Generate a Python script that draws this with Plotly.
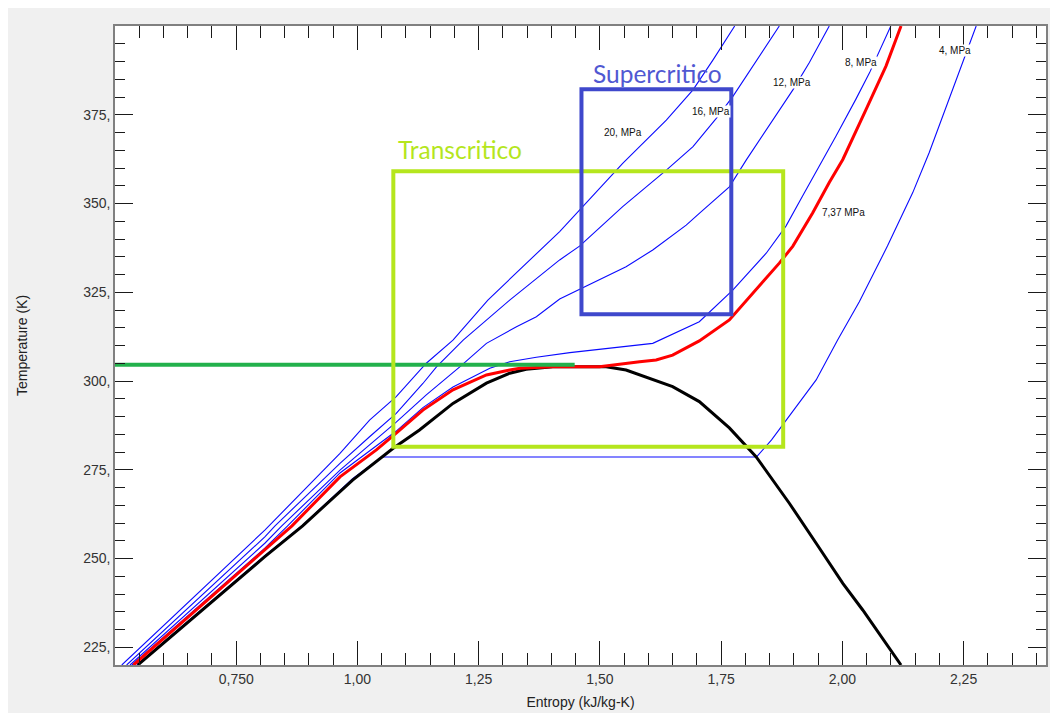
import plotly.graph_objects as go

# ---------------- data (entropy kJ/kg-K, temperature K) ----------------
dome_s = [0.547, 0.809, 0.887, 0.990, 1.073, 1.128, 1.197, 1.266, 1.314, 1.348, 1.403, 1.458,
          1.513, 1.554, 1.582, 1.650, 1.705, 1.767, 1.822, 1.891, 1.946, 2.001, 2.042, 2.121]
dome_T = [220.0, 250.5, 259.2, 272.1, 281.0, 286.2, 293.7, 299.4, 302.2, 303.3, 304.0, 304.1,
          304.0, 303.1, 301.7, 298.4, 294.2, 286.8, 278.7, 265.5, 254.3, 243.0, 235.5, 220.0]

p737_s = [0.538, 0.809, 0.865, 0.964, 1.039, 1.080, 1.135, 1.197, 1.266, 1.314, 1.335, 1.403, 1.499,
          1.582, 1.616, 1.650, 1.705, 1.767, 1.815, 1.870, 1.898, 1.939, 1.973, 2.001, 2.049, 2.090, 2.121]
p737_T = [220.0, 252.4, 259.2, 273.0, 280.6, 285.3, 291.8, 297.5, 301.7, 303.1, 303.6, 304.0, 304.0,
          305.4, 305.9, 307.3, 311.3, 317.2, 324.7, 333.2, 338.0, 347.4, 355.9, 362.4, 376.5, 388.7, 400.0]

p4_s = [0.545, 0.809, 0.887, 0.990, 1.050, 1.823, 1.854, 1.891, 1.946, 1.990, 2.035, 2.093, 2.145,
        2.179, 2.207, 2.234, 2.262, 2.276]
p4_T = [220.0, 250.8, 259.4, 272.5, 278.6, 278.6, 283.4, 290.1, 300.3, 311.5, 322.3, 338.0, 353.0,
        364.3, 374.6, 385.0, 395.3, 400.0]

p8_s = [0.535, 0.809, 0.856, 0.964, 1.080, 1.135, 1.197, 1.273, 1.314, 1.369, 1.438, 1.609, 1.705,
        1.774, 1.843, 1.884, 1.918, 1.953, 1.987, 2.028, 2.056, 2.100]
p8_T = [220.0, 252.9, 259.2, 274.1, 285.9, 292.5, 298.3, 303.6, 305.4, 306.7, 308.0, 310.6, 316.7,
        325.6, 336.0, 343.7, 352.1, 360.6, 369.0, 379.4, 386.8, 400.0]

p12_s = [0.531, 0.809, 0.844, 0.964, 1.080, 1.142, 1.211, 1.266, 1.328, 1.369, 1.417, 1.554, 1.609,
         1.678, 1.705, 1.767, 1.802, 1.854, 1.898, 1.932, 1.973]
p12_T = [220.0, 254.3, 259.2, 274.9, 288.4, 296.1, 304.0, 310.6, 315.3, 318.1, 323.1, 332.2, 336.9,
         343.9, 347.2, 354.7, 362.3, 373.0, 382.0, 389.7, 400.0]

p16_s = [0.524, 0.809, 0.830, 0.964, 1.025, 1.080, 1.135, 1.163, 1.218, 1.266, 1.314, 1.417, 1.458,
         1.547, 1.637, 1.692, 1.740, 1.774, 1.870]
p16_T = [220.0, 256.1, 259.2, 276.8, 284.3, 290.9, 299.3, 304.0, 311.5, 317.2, 322.8, 334.1, 338.0,
         349.1, 359.4, 366.0, 374.0, 380.1, 400.0]

p20_s = [0.514, 0.809, 0.964, 1.025, 1.080, 1.142, 1.197, 1.269, 1.417, 1.458, 1.547, 1.637, 1.692,
         1.733, 1.778]
p20_T = [220.0, 258.0, 279.6, 289.0, 295.6, 305.0, 311.5, 322.8, 342.1, 348.2, 361.3, 373.5, 382.0,
         390.4, 400.0]

crit_line_s = [0.50, 1.448]
crit_line_T = [304.6, 304.6]

trans_box_s = [1.074, 1.878]
trans_box_T = [281.5, 359.1]
super_box_s = [1.462, 1.771]
super_box_T = [318.8, 382.2]

iso_labels = ["20, MPa", "16, MPa", "12, MPa", "8, MPa", "4, MPa", "7,37 MPa"]
iso_label_s = [1.547, 1.730, 1.896, 2.039, 2.233, 2.003]
iso_label_T = [369.9, 375.9, 384.0, 389.7, 393.2, 347.4]

region_labels = ["Supercritico", "Transcritico"]
region_label_s = [1.619, 1.211]
region_label_T = [386.5, 365.1]

x_tickvals = [0.75, 1.00, 1.25, 1.50, 1.75, 2.00, 2.25]
x_ticktext = ["0,750", "1,00", "1,25", "1,50", "1,75", "2,00", "2,25"]
y_tickvals = [225, 250, 275, 300, 325, 350, 375]
y_ticktext = ["225,", "250,", "275,", "300,", "325,", "350,", "375,"]

# ---------------- figure ----------------
BLUE = "#0a0aff"
LIME = "#b5e61d"
INDIGO = "#3f48cc"
FONT = "Liberation Sans, Arial, sans-serif"

fig = go.Figure()

for s, T in [(p20_s, p20_T), (p16_s, p16_T), (p12_s, p12_T), (p8_s, p8_T), (p4_s, p4_T)]:
    fig.add_trace(go.Scatter(x=s, y=T, mode="lines", line=dict(color=BLUE, width=1.1),
                             hoverinfo="skip", showlegend=False))

fig.add_trace(go.Scatter(x=dome_s, y=dome_T, mode="lines", line=dict(color="black", width=3),
                         hoverinfo="skip", showlegend=False))
fig.add_trace(go.Scatter(x=p737_s, y=p737_T, mode="lines", line=dict(color="#ff0000", width=3),
                         hoverinfo="skip", showlegend=False))
fig.add_trace(go.Scatter(x=crit_line_s, y=crit_line_T, mode="lines", line=dict(color="#22b14c", width=4),
                         hoverinfo="skip", showlegend=False))

shapes = [
    dict(type="rect", xref="x", yref="y", x0=trans_box_s[0], x1=trans_box_s[1],
         y0=trans_box_T[0], y1=trans_box_T[1], line=dict(color=LIME, width=4), layer="above"),
    dict(type="rect", xref="x", yref="y", x0=super_box_s[0], x1=super_box_s[1],
         y0=super_box_T[0], y1=super_box_T[1], line=dict(color=INDIGO, width=4), layer="above"),
]

annotations = []
for txt, s, T in zip(iso_labels, iso_label_s, iso_label_T):
    annotations.append(dict(x=s, y=T, xref="x", yref="y", text=txt, showarrow=False,
                            font=dict(family=FONT, size=10, color="#111"),
                            bgcolor="white", borderpad=0))
region_colors = ["#5058d2", LIME]
for txt, s, T, c in zip(region_labels, region_label_s, region_label_T, region_colors):
    annotations.append(dict(x=s, y=T, xref="x", yref="y", text=txt, showarrow=False,
                            font=dict(family="Lato, Open Sans, sans-serif", size=24.5, color=c)))

axis_common = dict(showgrid=False, zeroline=False, showline=True, linecolor="#808080", linewidth=1.5,
                   mirror="ticks", ticks="inside", tickcolor="#1a1a1a", tickwidth=1, automargin=False,
                   tickfont=dict(family=FONT, size=14, color="#333"))

fig.update_layout(
    width=1050, height=705,
    margin=dict(l=107, r=12, t=18, b=48),
    paper_bgcolor="#f0f0f0", plot_bgcolor="white",
    shapes=shapes, annotations=annotations,
    xaxis=dict(range=[0.50, 2.42], tickmode="array", tickvals=x_tickvals, ticktext=x_ticktext,
               ticklen=24,
               minor=dict(ticks="inside", ticklen=12, dtick=0.05, tick0=0.5, tickcolor="#1a1a1a",
                          tickwidth=1, showgrid=False),
               title=dict(text="Entropy (kJ/kg-K)", font=dict(family=FONT, size=14, color="#222"),
                          standoff=12),
               **axis_common),
    yaxis=dict(range=[220, 400], tickmode="array", tickvals=y_tickvals, ticktext=y_ticktext,
               ticklen=18,
               minor=dict(ticks="inside", ticklen=10, dtick=5, tick0=220, tickcolor="#1a1a1a",
                          tickwidth=1, showgrid=False),
               title=dict(text="Temperature (K)", font=dict(family=FONT, size=14, color="#222"),
                          standoff=52),
               **axis_common),
    showlegend=False,
)

fig.write_html("out.html")
